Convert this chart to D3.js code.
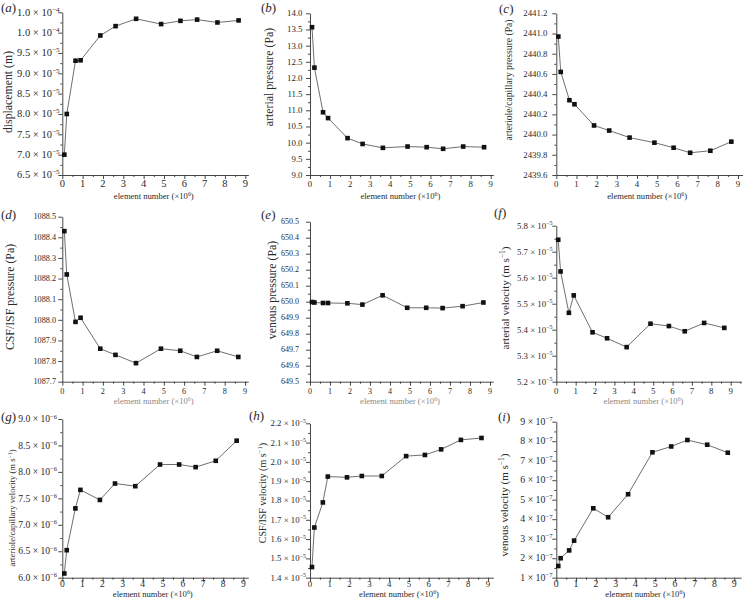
<!DOCTYPE html>
<html>
<head>
<meta charset="utf-8">
<script src="https://cdn.jsdelivr.net/npm/d3@7"></script>
<style>
  html, body { margin: 0; padding: 0; background: #fff; }
  svg { display: block; }
  text { font-family: "Liberation Serif", "DejaVu Serif", serif; fill: #2a2a2a; }
</style>
</head>
<body>
<script>
// ---------------- DATA ----------------
const elementNumber = [0.1, 0.22, 0.65, 0.9, 1.87, 2.62, 3.63, 4.86, 5.81, 6.63, 7.63, 8.67];

const displacement = [7.0e-5, 8.0e-5, 9.31e-5, 9.32e-5, 9.93e-5, 10.16e-5, 10.34e-5, 10.21e-5, 10.29e-5, 10.32e-5, 10.25e-5, 10.30e-5];
const arterialPressure = [13.57, 12.32, 10.94, 10.76, 10.14, 9.96, 9.84, 9.88, 9.86, 9.81, 9.88, 9.86];
const arterioleCapPressure = [2440.97, 2440.62, 2440.34, 2440.30, 2440.09, 2440.04, 2439.97, 2439.92, 2439.87, 2439.82, 2439.84, 2439.93];
const csfIsfPressure = [1088.43, 1088.22, 1087.99, 1088.01, 1087.86, 1087.83, 1087.79, 1087.86, 1087.85, 1087.82, 1087.85, 1087.82];
const venousPressure = [649.998, 649.995, 649.992, 649.992, 649.990, 649.982, 650.040, 649.962, 649.962, 649.960, 649.972, 649.995];
const arterialVelocity = [5.746e-5, 5.624e-5, 5.465e-5, 5.532e-5, 5.390e-5, 5.367e-5, 5.333e-5, 5.423e-5, 5.414e-5, 5.394e-5, 5.426e-5, 5.407e-5];
const arterioleCapVelocity = [6.08e-6, 6.52e-6, 7.31e-6, 7.66e-6, 7.47e-6, 7.78e-6, 7.73e-6, 8.14e-6, 8.14e-6, 8.09e-6, 8.21e-6, 8.59e-6];
const csfIsfVelocity = [1.455e-5, 1.66e-5, 1.79e-5, 1.924e-5, 1.92e-5, 1.927e-5, 1.927e-5, 2.03e-5, 2.036e-5, 2.065e-5, 2.114e-5, 2.124e-5];
const venousVelocity = [1.6e-7, 2.0e-7, 2.4e-7, 2.9e-7, 4.56e-7, 4.1e-7, 5.28e-7, 7.43e-7, 7.73e-7, 8.06e-7, 7.82e-7, 7.41e-7];

const xTicks = [0, 1, 2, 3, 4, 5, 6, 7, 8, 9];
const xTickLabels = ["0", "1", "2", "3", "4", "5", "6", "7", "8", "9"];

const yTicksA = [6.5e-5, 7.0e-5, 7.5e-5, 8.0e-5, 8.5e-5, 9.0e-5, 9.5e-5, 1.0e-4, 1.05e-4];
const yLabelsA = ["6.5 × 10|−5", "7.0 × 10|−5", "7.5 × 10|−5", "8.0 × 10|−5", "8.5 × 10|−5", "9.0 × 10|−5", "9.5 × 10|−5", "1.0 × 10|−4", "1.0 × 10|−4"];
const yTicksB = [9.0, 9.5, 10.0, 10.5, 11.0, 11.5, 12.0, 12.5, 13.0, 13.5, 14.0];
const yLabelsB = ["9.0", "9.5", "10.0", "10.5", "11.0", "11.5", "12.0", "12.5", "13.0", "13.5", "14.0"];
const yTicksC = [2439.6, 2439.8, 2440.0, 2440.2, 2440.4, 2440.6, 2440.8, 2441.0, 2441.2];
const yLabelsC = ["2439.6", "2439.8", "2440.0", "2440.2", "2440.4", "2440.6", "2440.8", "2441.0", "2441.2"];
const yTicksD = [1087.7, 1087.8, 1087.9, 1088.0, 1088.1, 1088.2, 1088.3, 1088.4, 1088.5];
const yLabelsD = ["1087.7", "1087.8", "1087.9", "1088.0", "1088.1", "1088.2", "1088.3", "1088.4", "1088.5"];
const yTicksE = [649.5, 649.6, 649.7, 649.8, 649.9, 650.0, 650.1, 650.2, 650.3, 650.4, 650.5];
const yLabelsE = ["649.5", "649.6", "649.7", "649.8", "649.9", "650.0", "650.1", "650.2", "650.3", "650.4", "650.5"];
const yTicksF = [5.2e-5, 5.3e-5, 5.4e-5, 5.5e-5, 5.6e-5, 5.7e-5, 5.8e-5];
const yLabelsF = ["5.2 × 10|−5", "5.3 × 10|−5", "5.4 × 10|−5", "5.5 × 10|−5", "5.6 × 10|−5", "5.7 × 10|−5", "5.8 × 10|−5"];
const yTicksG = [6.0e-6, 6.5e-6, 7.0e-6, 7.5e-6, 8.0e-6, 8.5e-6, 9.0e-6];
const yLabelsG = ["6.0 × 10|−6", "6.5 × 10|−6", "7.0 × 10|−6", "7.5 × 10|−6", "8.0 × 10|−6", "8.5 × 10|−6", "9.0 × 10|−6"];
const yTicksH = [1.4e-5, 1.5e-5, 1.6e-5, 1.7e-5, 1.8e-5, 1.9e-5, 2.0e-5, 2.1e-5, 2.2e-5];
const yLabelsH = ["1.4 × 10|−5", "1.5 × 10|−5", "1.6 × 10|−5", "1.7 × 10|−5", "1.8 × 10|−5", "1.9 × 10|−5", "2.0 × 10|−5", "2.1 × 10|−5", "2.2 × 10|−5"];
const yTicksI = [1e-7, 2e-7, 3e-7, 4e-7, 5e-7, 6e-7, 7e-7, 8e-7, 9e-7];
const yLabelsI = ["1 × 10|−7", "2 × 10|−7", "3 × 10|−7", "4 × 10|−7", "5 × 10|−7", "6 × 10|−7", "7 × 10|−7", "8 × 10|−7", "9 × 10|−7"];

const panelLetters = ["a", "b", "c", "d", "e", "f", "g", "h", "i"];
const yTitles = [
  "displacement (m)", "arterial pressure (Pa)", "arteriole/capillary pressure (Pa)",
  "CSF/ISF pressure (Pa)", "venous pressure (Pa)", "arterial velocity (m s|−1|)",
  "arteriole/capillary velocity (m s|−1|)", "CSF/ISF velocity (m s|−1|)", "venous velocity (m s|−1|)"
];
const xTitle = "element number (×10|6|)";

// ---------------- LAYOUT ----------------
const W = 743, H = 604;
const svg = d3.select("body").append("svg").attr("width", W).attr("height", H);

const series = [displacement, arterialPressure, arterioleCapPressure, csfIsfPressure, venousPressure,
                arterialVelocity, arterioleCapVelocity, csfIsfVelocity, venousVelocity];
const yTickSets = [yTicksA, yTicksB, yTicksC, yTicksD, yTicksE, yTicksF, yTicksG, yTicksH, yTicksI];
const yLabelSets = [yLabelsA, yLabelsB, yLabelsC, yLabelsD, yLabelsE, yLabelsF, yLabelsG, yLabelsH, yLabelsI];

// geometry per panel
const layout = [
  {x0: 62.3, x9: 245.3, xMax: 9.15, yTop: 12.3, yBot: 175, tf: 10.5, lr: 59.5, tcx: 8,   tcy: 92,  tfs: 11.8, lx: 1,   ly: 12,  xlb: 187, xtb: 199, xtc: "#2a2a2a"},
  {x0: 310,  x9: 490.7, xMax: 9.13, yTop: 13.3, yBot: 175, tf: 8.8,  lr: 302.5, tcx: 269, tcy: 77,  tfs: 11.8, lx: 261, ly: 12,  xlb: 187, xtb: 199, xtc: "#2a2a2a"},
  {x0: 556.3,x9: 738,   xMax: 9.25, yTop: 13.3, yBot: 175, tf: 8.8,  lr: 547.5, tcx: 509, tcy: 80,  tfs: 9.6,  lx: 499, ly: 13,  xlb: 187, xtb: 199, xtc: "#2a2a2a"},
  {x0: 62.3, x9: 245,   xMax: 9.16, yTop: 216.7,yBot: 381.7, tf: 8.2, lr: 56,  tcx: 10,  tcy: 297, tfs: 11.8, lx: 1,   ly: 219, xlb: 394, xtb: 404, xtc: "#8a8a8a"},
  {x0: 310,  x9: 490,   xMax: 9.16, yTop: 221.7,yBot: 381.7, tf: 8.0, lr: 299, tcx: 272, tcy: 290, tfs: 11.8, lx: 261, ly: 219, xlb: 394, xtb: 404, xtc: "#8a8a8a"},
  {x0: 556.3,x9: 730.7, xMax: 9.53, yTop: 225.7,yBot: 381.7, tf: 8.8, lr: 552.5, tcx: 505, tcy: 298, tfs: 11.0, lx: 494, ly: 217, xlb: 394, xtb: 404, xtc: "#8a8a8a"},
  {x0: 62.3, x9: 243.3, xMax: 9.25, yTop: 419,  yBot: 577.7, tf: 9.6, lr: 57,  tcx: 12,  tcy: 508, tfs: 8.6,  lx: 1,   ly: 421, xlb: 587, xtb: 597, xtc: "#2a2a2a"},
  {x0: 310,  x9: 488,   xMax: 9.27, yTop: 423.3,yBot: 577.7, tf: 8.8, lr: 306, tcx: 262, tcy: 493, tfs: 10.0, lx: 249, ly: 420, xlb: 587, xtb: 597, xtc: "#2a2a2a"},
  {x0: 556.3,x9: 734.3, xMax: 9.35, yTop: 421.7,yBot: 577.7, tf: 9.8, lr: 552.5, tcx: 504, tcy: 505, tfs: 11.0, lx: 498, ly: 421, xlb: 587, xtb: 597, xtc: "#2a2a2a"}
];

// helper: write "base|sup|rest" with superscript
function richText(sel, str, fs) {
  const parts = str.split("|");
  parts.forEach((t, k) => {
    if (t === "") return;
    const ts = sel.append("tspan").text(t);
    if (k === 1) {
      ts.attr("font-size", fs * 0.68).attr("dy", -fs * 0.38);
    } else if (k === 2) {
      ts.attr("dy", fs * 0.38);
    }
  });
}

layout.forEach((p, idx) => {
  const g = svg.append("g");
  const yt = yTickSets[idx];
  const x = d3.scaleLinear().domain([0, p.xMax]).range([p.x0, p.x0 + p.xMax * (p.x9 - p.x0) / 9]);
  const y = d3.scaleLinear().domain([yt[0], yt[yt.length - 1]]).range([p.yBot, p.yTop]);

  // y axis (major)
  g.append("g").attr("transform", `translate(${p.x0},0)`)
    .call(d3.axisLeft(y).tickValues(yt).tickSize(4).tickSizeOuter(0).tickFormat(""));
  // y minor
  const yMinor = d3.range(yt.length - 1).map(k => (yt[k] + yt[k + 1]) / 2);
  g.append("g").attr("transform", `translate(${p.x0},0)`)
    .call(d3.axisLeft(y).tickValues(yMinor).tickSize(2).tickFormat(""))
    .call(s => s.select(".domain").remove());

  // x axis
  g.append("g").attr("transform", `translate(0,${p.yBot})`)
    .call(d3.axisBottom(x).tickValues(xTicks).tickSize(4).tickSizeOuter(0).tickFormat(""));
  const xMinor = d3.range(0.5, p.xMax, 1);
  g.append("g").attr("transform", `translate(0,${p.yBot})`)
    .call(d3.axisBottom(x).tickValues(xMinor).tickSize(2).tickFormat(""))
    .call(s => s.select(".domain").remove());

  g.selectAll(".domain, .tick line").attr("stroke", "#333").attr("stroke-width", 0.9);

  // y tick labels
  yLabelSets[idx].forEach((lab, k) => {
    const t = g.append("text")
      .attr("x", p.lr).attr("y", y(yt[k]) + p.tf * 0.33)
      .attr("text-anchor", "end").attr("font-size", p.tf);
    richText(t, lab, p.tf);
  });

  // x tick labels
  xTicks.forEach((v, k) => {
    g.append("text").attr("x", x(v)).attr("y", p.xlb)
      .attr("text-anchor", "middle").attr("font-size", p.tf)
      .text(xTickLabels[k]);
  });

  // x title
  const xt = g.append("text")
    .attr("x", (p.x0 + p.x9) / 2).attr("y", p.xtb)
    .attr("text-anchor", "middle").attr("font-size", 8.6)
    .style("fill", p.xtc);
  richText(xt, xTitle, 8.6);

  // y title
  const ytt = g.append("text")
    .attr("transform", `translate(${p.tcx + p.tfs * 0.35},${p.tcy}) rotate(-90)`)
    .attr("text-anchor", "middle").attr("font-size", p.tfs);
  richText(ytt, yTitles[idx], p.tfs);

  // panel letter
  const pl = g.append("text").attr("x", p.lx).attr("y", p.ly).attr("font-size", 13);
  pl.append("tspan").text("(");
  pl.append("tspan").attr("font-style", "italic").text(panelLetters[idx]);
  pl.append("tspan").text(")");

  // data line + markers
  const pts = elementNumber.map((e, k) => [e, series[idx][k]]);
  g.append("path").datum(pts)
    .attr("fill", "none").attr("stroke", "#4a4a4a").attr("stroke-width", 0.8)
    .attr("d", d3.line().x(d => x(d[0])).y(d => y(d[1])));
  const ms = 4.6;
  g.selectAll("rect.m").data(pts).enter().append("rect")
    .attr("class", "m")
    .attr("x", d => x(d[0]) - ms / 2).attr("y", d => y(d[1]) - ms / 2)
    .attr("width", ms).attr("height", ms).attr("fill", "#111");
});
</script>
</body>
</html>
